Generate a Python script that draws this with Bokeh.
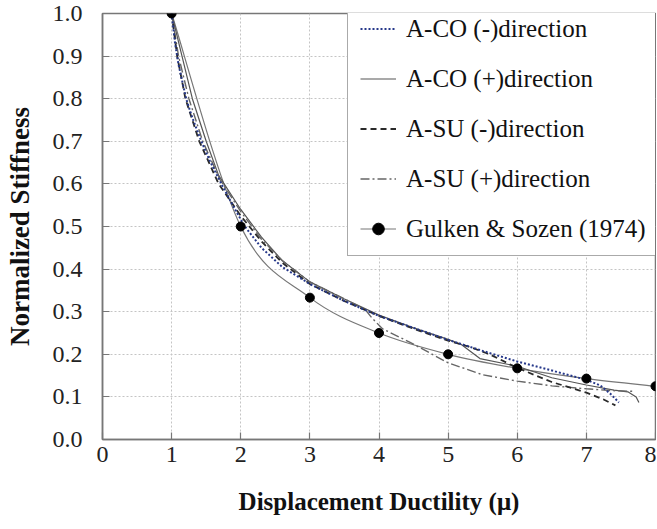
from bokeh.plotting import figure
from bokeh.models import FixedTicker, NumeralTickFormatter, Legend, LegendItem, Range1d
from bokeh.embed import file_html
from bokeh.resources import INLINE

# ---- data ----
aco_neg_x = [1.0, 1.05, 1.1, 1.21, 1.3, 1.43, 1.55, 1.72, 1.9, 2.06, 2.3, 2.6, 3.0, 3.5, 4.0, 4.5, 5.0, 5.5, 6.0, 6.5, 7.0, 7.2, 7.35, 7.47]
aco_neg_y = [1.0, 0.93, 0.88, 0.80, 0.755, 0.70, 0.655, 0.60, 0.545, 0.50, 0.45, 0.405, 0.365, 0.325, 0.29, 0.262, 0.234, 0.208, 0.183, 0.162, 0.14, 0.127, 0.107, 0.087]

aco_pos_x = [1.0, 1.15, 1.3, 1.5, 1.68, 2.0, 2.3, 2.6, 3.0, 3.5, 4.0, 4.5, 5.0, 5.2, 5.46, 6.0, 6.5, 7.0, 7.4, 7.6, 7.72, 7.76]
aco_pos_y = [1.0, 0.90, 0.80, 0.70, 0.62, 0.54, 0.475, 0.42, 0.37, 0.33, 0.292, 0.262, 0.235, 0.222, 0.19, 0.172, 0.145, 0.128, 0.116, 0.112, 0.10, 0.087]

asu_neg_x = [1.0, 1.08, 1.2, 1.4, 1.68, 2.0, 2.3, 2.6, 3.0, 3.5, 4.0, 4.5, 5.0, 5.3, 5.6, 6.0, 6.5, 7.0, 7.25, 7.42]
asu_neg_y = [1.0, 0.90, 0.80, 0.70, 0.60, 0.525, 0.465, 0.415, 0.365, 0.325, 0.29, 0.26, 0.232, 0.218, 0.20, 0.168, 0.135, 0.11, 0.094, 0.08]

asu_pos_x = [1.0, 1.1, 1.25, 1.45, 1.7, 2.0, 2.3, 2.6, 3.0, 3.5, 3.8, 3.9, 4.05, 4.45, 5.0, 5.5, 6.0, 6.5, 7.0, 7.35, 7.68]
asu_pos_y = [1.0, 0.90, 0.80, 0.70, 0.61, 0.535, 0.47, 0.42, 0.37, 0.33, 0.305, 0.285, 0.26, 0.228, 0.18, 0.152, 0.137, 0.126, 0.119, 0.115, 0.113]

gs_x = [1, 2, 3, 4, 5, 6, 7, 8]
gs_y = [1.0, 0.5, 0.333, 0.25, 0.2, 0.167, 0.143, 0.125]

x_ticks = [0, 1, 2, 3, 4, 5, 6, 7, 8]
y_ticks = [0.0, 0.1, 0.2, 0.3, 0.4, 0.5, 0.6, 0.7, 0.8, 0.9, 1.0]

FONT = "'Times New Roman', 'Liberation Serif', serif"

p = figure(width=656, height=527, output_backend="svg", toolbar_location=None,
           x_range=Range1d(0, 8), y_range=Range1d(0, 1.0),
           min_border_left=102, min_border_right=1, min_border_top=13, min_border_bottom=88,
           background_fill_color="white", border_fill_color="white")

p.outline_line_color = "#777777"
p.outline_line_width = 1.5

for ax in (p.xaxis[0], p.yaxis[0]):
    ax.axis_line_color = "#777777"
    ax.axis_line_width = 1.5
    ax.major_tick_line_color = "#777777"
    ax.major_tick_line_width = 1.2
    ax.major_tick_in = 7
    ax.major_tick_out = 0
    ax.minor_tick_line_color = None
    ax.major_label_text_font = FONT
    ax.major_label_text_font_size = "24px"
    ax.major_label_text_color = "#222222"
    ax.axis_label_text_font = FONT
    ax.axis_label_text_font_style = "bold"
    ax.axis_label_text_color = "#111111"

p.xaxis.axis_label_text_font_size = "25px"
p.yaxis.axis_label_text_font_size = "27px"
p.xaxis.ticker = FixedTicker(ticks=x_ticks)
p.yaxis.ticker = FixedTicker(ticks=y_ticks)
p.yaxis.formatter = NumeralTickFormatter(format="0.0")
p.xaxis.major_label_standoff = 7
p.yaxis.major_label_standoff = 20
p.xaxis.axis_label = "Displacement Ductility (\u03bc)"
p.yaxis.axis_label = "Normalized Stiffness"
p.xaxis.axis_label_standoff = 23
p.yaxis.axis_label_standoff = 15

for g in (p.xgrid[0], p.ygrid[0]):
    g.grid_line_color = "#c4c4c4"
    g.grid_line_dash = "2 2"
    g.grid_line_width = 1

# Gulken & Sozen smoothed line (Bezier through the points)
n = len(gs_x)
x0, y0, x1, y1, cx0, cy0, cx1, cy1 = [], [], [], [], [], [], [], []
for i in range(n - 1):
    im = max(i - 1, 0)
    ip2 = min(i + 2, n - 1)
    x0.append(gs_x[i]); y0.append(gs_y[i])
    x1.append(gs_x[i + 1]); y1.append(gs_y[i + 1])
    cx0.append(gs_x[i] + (gs_x[i + 1] - gs_x[im]) / 6.0)
    cy0.append(gs_y[i] + (gs_y[i + 1] - gs_y[im]) / 6.0)
    cx1.append(gs_x[i + 1] - (gs_x[ip2] - gs_x[i]) / 6.0)
    cy1.append(gs_y[i + 1] - (gs_y[ip2] - gs_y[i]) / 6.0)
r_gs_line = p.bezier(x0=x0, y0=y0, x1=x1, y1=y1, cx0=cx0, cy0=cy0, cx1=cx1, cy1=cy1,
                     line_color="#777777", line_width=1.2)

r_aco_pos = p.line(aco_pos_x, aco_pos_y, line_color="#555555", line_width=1.2)
r_asu_pos = p.line(asu_pos_x, asu_pos_y, line_color="#666666", line_width=1.4, line_dash="9 3 2 3")
r_asu_neg = p.line(asu_neg_x, asu_neg_y, line_color="#2a2a2a", line_width=1.8, line_dash="6 4")
r_aco_neg = p.line(aco_neg_x, aco_neg_y, line_color="#26388a", line_width=2.0, line_dash="2 2")
r_gs_pts = p.scatter(gs_x, gs_y, marker="circle", size=9, fill_color="black", line_color="black")

legend = Legend(items=[
    LegendItem(label="A-CO (-)direction", renderers=[r_aco_neg]),
    LegendItem(label="A-CO (+)direction", renderers=[r_aco_pos]),
    LegendItem(label="A-SU (-)direction", renderers=[r_asu_neg]),
    LegendItem(label="A-SU (+)direction", renderers=[r_asu_pos]),
    LegendItem(label="Gulken & Sozen (1974)", renderers=[r_gs_line, r_gs_pts]),
], location=(245, 183))
legend.label_text_font = FONT
legend.label_text_font_size = "25px"
legend.label_text_color = "#111111"
legend.glyph_width = 36
legend.glyph_height = 29
legend.label_height = 29
legend.spacing = 21
legend.padding = 12
legend.margin = 0
legend.label_standoff = 10
legend.border_line_color = "#555555"
legend.border_line_width = 1.5
legend.background_fill_color = "white"
legend.background_fill_alpha = 1.0
p.add_layout(legend)

open("out.html", "w").write(file_html(p, INLINE))
